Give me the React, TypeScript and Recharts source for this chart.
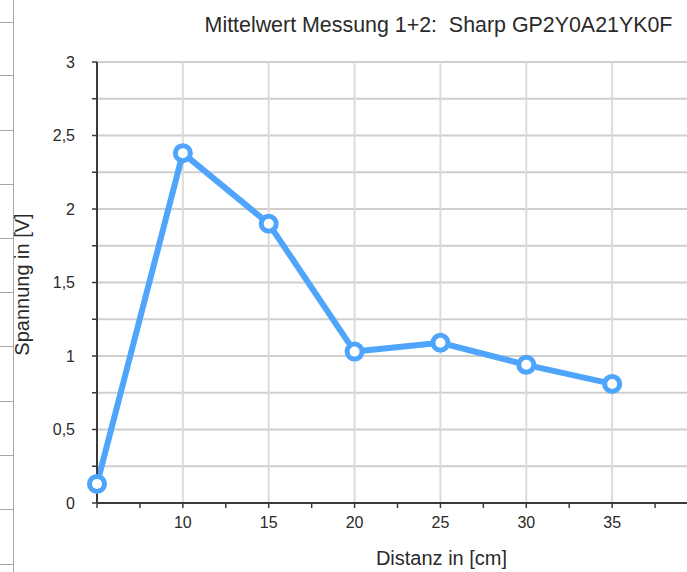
import React from 'react';
import { LineChart, Line, XAxis, YAxis, CartesianGrid, ReferenceLine, Label } from 'recharts';

const title = 'Mittelwert Messung 1+2:  Sharp GP2Y0A21YK0F';
const xTitle = 'Distanz in [cm]';
const yTitle = 'Spannung in [V]';

const distances = [5, 10, 15, 20, 25, 30, 35];
const voltages = [0.13, 2.38, 1.9, 1.03, 1.09, 0.94, 0.81];

const xTicks = [5, 7.5, 10, 12.5, 15, 17.5, 20, 22.5, 25, 27.5, 30, 32.5, 35, 37.5, 40];
const xLabelTicks = [10, 15, 20, 25, 30, 35];
const xGridLines = [10, 15, 20, 25, 30, 35, 40];
const yTicks = [0, 0.25, 0.5, 0.75, 1, 1.25, 1.5, 1.75, 2, 2.25, 2.5, 2.75, 3];
const yLabelTicks = [0, 0.5, 1, 1.5, 2, 2.5, 3];

const data = distances.map((d, i) => ({ d, v: voltages[i] }));

const BLUE = '#4ea5fb';
const FONT = '"Liberation Sans", Arial, Helvetica, sans-serif';

const sideRows = [22, 75, 130, 184, 238, 292, 346, 401, 455, 509, 564];

export default function App() {
  return (
    <div style={{ position: 'absolute', left: 0, top: 0, width: 687, height: 572, overflow: 'hidden', background: '#fff', fontFamily: FONT }}>
      <div style={{ position: 'absolute', left: 13, top: 0, width: 1, height: 572, background: '#a8a8a8' }} />
      {sideRows.map((y) => (
        <div key={y} style={{ position: 'absolute', left: 0, top: y, width: 13, height: 1, background: '#a8a8a8' }} />
      ))}
      <div style={{ position: 'absolute', left: 0, top: 0 }}>
        <LineChart width={698} height={572} data={data} margin={{ top: 62, right: 0, bottom: 0, left: 0 }}>
          <CartesianGrid vertical={false} stroke="#cfcfcf" strokeWidth={2} />
          {xGridLines.map((x) => (
            <ReferenceLine key={x} x={x} stroke="#dcdcdc" strokeWidth={2} />
          ))}
          <XAxis
            dataKey="d"
            type="number"
            domain={[5, 40]}
            ticks={xTicks}
            interval={0}
            height={69}
            axisLine={{ stroke: '#3a3a3a', strokeWidth: 2 }}
            tickLine={{ stroke: '#3a3a3a', strokeWidth: 1.5 }}
            tickSize={5}
            tickMargin={9}
            tick={{ fill: '#2a2a2a', fontSize: 16, fontFamily: FONT }}
            tickFormatter={(v: number) => (xLabelTicks.includes(v) ? String(v) : '')}
          >
            <Label value={xTitle} position="insideBottom" offset={7} dx={44} style={{ fill: '#2a2a2a', fontSize: 20, fontFamily: FONT }} />
          </XAxis>
          <YAxis
            type="number"
            domain={[0, 3]}
            ticks={yTicks}
            interval={0}
            width={97}
            axisLine={{ stroke: '#3a3a3a', strokeWidth: 2 }}
            tickLine={{ stroke: '#3a3a3a', strokeWidth: 1.5 }}
            tickSize={5}
            tickMargin={17}
            tick={{ fill: '#2a2a2a', fontSize: 16, fontFamily: FONT }}
            tickFormatter={(v: number) => (yLabelTicks.includes(v) ? String(v).replace('.', ',') : '')}
          >
            <Label value={yTitle} angle={-90} position="insideLeft" offset={22} dy={2} style={{ fill: '#2a2a2a', fontSize: 20, fontFamily: FONT, textAnchor: 'middle' }} />
          </YAxis>
          <Line
            type="linear"
            dataKey="v"
            stroke={BLUE}
            strokeWidth={6}
            dot={{ r: 7.5, fill: '#fff', stroke: BLUE, strokeWidth: 5 }}
            activeDot={false}
            isAnimationActive={false}
          />
        </LineChart>
      </div>
      <div style={{ position: 'absolute', left: 190, top: 13, width: 497, textAlign: 'center', fontSize: 21.4, color: '#2a2a2a', whiteSpace: 'pre', fontFamily: FONT }}>
        {title}
      </div>
    </div>
  );
}
